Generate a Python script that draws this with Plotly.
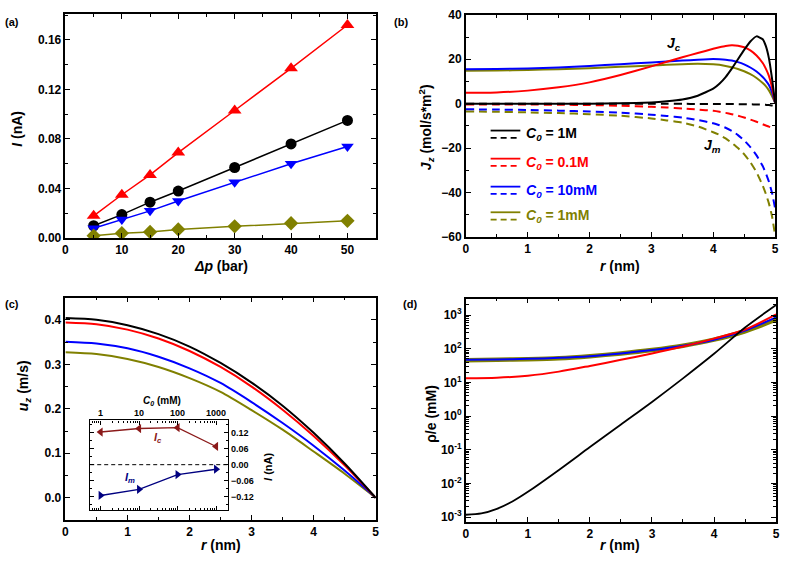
import plotly.graph_objects as go

W, H = 787, 565
FONT = "Liberation Sans, Arial, sans-serif"

def px(x):
    return x / W

def py(y):
    return 1 - y / H

# ---------------- data ----------------
# (a) current vs pressure
dp_bar = [5, 10, 15, 20, 30, 40, 50]
I_1M = [0.010, 0.019, 0.029, 0.038, 0.057, 0.076, 0.095]
I_01M = [0.018, 0.035, 0.051, 0.069, 0.103, 0.137, 0.172]
I_10mM = [0.008, 0.015, 0.022, 0.030, 0.045, 0.060, 0.074]
I_1mM = [0.002, 0.004, 0.005, 0.007, 0.0095, 0.012, 0.014]

# (b) fluxes
r_b = [0, 0.5, 1, 1.5, 2, 2.5, 3, 3.25, 3.5, 3.75, 4, 4.1, 4.2, 4.3, 4.4, 4.5, 4.6, 4.7, 4.8, 4.85, 4.9, 4.95, 5]
Jc_1M = [0, 0, 0, 0, 0.05, 0.2, 0.6, 1.1, 1.9, 3.6, 6.8, 9.0, 12.0, 15.8, 20.0, 24.2, 28.0, 30.3, 29.0, 26.0, 20.5, 11.5, 0.5]
Jc_01M = [4.9, 5.1, 5.9, 7.4, 9.6, 12.9, 16.8, 18.9, 20.9, 22.8, 24.7, 25.4, 26.0, 26.3, 26.1, 25.4, 24.0, 21.7, 18.3, 15.8, 12.5, 7.5, 0.5]
Jc_10mM = [15.5, 15.6, 15.9, 16.3, 17.0, 17.8, 18.6, 19.0, 19.4, 19.8, 20.1, 20.0, 19.8, 19.4, 18.7, 17.7, 16.3, 14.5, 12.0, 10.4, 8.4, 5.2, 0.5]
Jc_1mM = [14.8, 14.9, 15.2, 15.5, 16.0, 16.6, 17.2, 17.5, 17.8, 18.0, 17.8, 17.5, 17.0, 16.4, 15.6, 14.6, 13.3, 11.6, 9.3, 7.9, 6.0, 3.5, 0.5]
Jm_1M = [0, 0, 0, 0, 0, 0, 0, -0.02, -0.05, -0.08, -0.1, -0.12, -0.14, -0.16, -0.19, -0.22, -0.27, -0.33, -0.42, -0.5, -0.6, -0.8, -1.0]
Jm_01M = [-0.3, -0.3, -0.35, -0.45, -0.6, -0.9, -1.4, -1.7, -2.1, -2.6, -3.2, -3.6, -4.1, -4.7, -5.4, -6.2, -7.1, -8.1, -9.2, -9.8, -10.3, -10.8, -11.2]
Jm_10mM = [-2.5, -2.6, -2.8, -3.1, -3.5, -4.0, -4.9, -5.5, -6.2, -7.3, -8.8, -9.7, -10.8, -12.2, -14.1, -16.5, -19.5, -23.2, -28.0, -31.2, -35.0, -40.0, -47.0]
Jm_1mM = [-3.5, -3.6, -3.9, -4.2, -4.7, -5.4, -6.6, -7.5, -8.5, -10.2, -12.8, -14.0, -15.6, -17.6, -19.9, -22.7, -26.3, -30.8, -36.8, -40.5, -44.8, -50.5, -59.0]

# (c) velocity profiles
r_c = [0, 0.5, 1, 1.5, 2, 2.5, 3, 3.5, 4, 4.5, 5]
u_1M = [0.404, 0.400, 0.388, 0.368, 0.340, 0.303, 0.259, 0.207, 0.146, 0.077, 0.0]
u_01M = [0.394, 0.390, 0.378, 0.358, 0.330, 0.294, 0.250, 0.198, 0.139, 0.073, 0.0]
u_10mM = [0.351, 0.347, 0.336, 0.317, 0.291, 0.258, 0.215, 0.168, 0.117, 0.061, 0.0]
u_1mM = [0.327, 0.323, 0.312, 0.294, 0.269, 0.238, 0.197, 0.153, 0.104, 0.054, 0.0]

# inset of (c)
C0_mM = [1, 10, 100, 1000]
Ic_nA = [0.122, 0.135, 0.138, 0.068]
Im_nA = [-0.115, -0.092, -0.037, -0.017]

# (d) charge density
r_d1 = [0, 0.25, 0.5, 0.75, 1, 1.5, 2, 2.5, 3, 3.5, 4, 4.5, 5]
rho_1M = [0.00117, 0.00128, 0.00175, 0.00290, 0.00562, 0.0251, 0.120, 0.562, 2.63, 13.2, 70.8, 427, 2000]
r_d = [0, 0.5, 1, 1.5, 2, 2.5, 3, 3.5, 4, 4.5, 5]
rho_01M = [13.3, 13.8, 15.8, 20.9, 30.9, 46.8, 72.4, 117, 200, 372, 1047]
rho_10mM = [47.3, 47.9, 50.1, 53.7, 60.3, 72.4, 91.2, 123, 186, 347, 851]
rho_1mM = [45.7, 46.8, 49.0, 52.5, 60.3, 72.4, 91.2, 123, 186, 331, 741]

# log tick labels for (d)
d_tickvals = [1e-3, 1e-2, 1e-1, 1e0, 1e1, 1e2, 1e3]
d_ticktext = ["10<sup>-3</sup>", "10<sup>-2</sup>", "10<sup>-1</sup>", "10<sup>0</sup>",
              "10<sup>1</sup>", "10<sup>2</sup>", "10<sup>3</sup>"]
d_minorvals = [m * 10.0 ** e for e in range(-3, 4) for m in range(2, 10)]
inset_minorvals = [m * 10.0 ** e for e in range(-1, 4) for m in range(2, 10)]

BLACK, RED, BLUE, OLIVE = "#000000", "#FF0000", "#0000FF", "#808000"
DRED, NAVY = "#8B1A1A", "#000080"

fig = go.Figure()

# (a)
for ys, col, sym, sz in [(I_01M, RED, "triangle-up", 12), (I_1M, BLACK, "circle", 11),
                         (I_10mM, BLUE, "triangle-down", 11), (I_1mM, OLIVE, "diamond", 11)]:
    fig.add_trace(go.Scatter(x=dp_bar, y=ys, mode="lines+markers", xaxis="x", yaxis="y",
                             line=dict(color=col, width=1.5),
                             marker=dict(symbol=sym, size=sz, color=col), showlegend=False))

# (b)
for ys, col in [(Jm_1mM, OLIVE), (Jm_10mM, BLUE), (Jm_01M, RED), (Jm_1M, BLACK)]:
    fig.add_trace(go.Scatter(x=r_b, y=ys, mode="lines", xaxis="x2", yaxis="y2",
                             line=dict(color=col, width=2, dash="8px,5px", shape="spline", smoothing=0.4),
                             showlegend=False))
for ys, col in [(Jc_1mM, OLIVE), (Jc_10mM, BLUE), (Jc_01M, RED), (Jc_1M, BLACK)]:
    fig.add_trace(go.Scatter(x=r_b, y=ys, mode="lines", xaxis="x2", yaxis="y2",
                             line=dict(color=col, width=2, shape="spline", smoothing=0.4),
                             showlegend=False))

# (c)
for ys, col in [(u_1mM, OLIVE), (u_10mM, BLUE), (u_01M, RED), (u_1M, BLACK)]:
    fig.add_trace(go.Scatter(x=r_c, y=ys, mode="lines", xaxis="x3", yaxis="y3",
                             line=dict(color=col, width=2, shape="spline", smoothing=0.8),
                             showlegend=False))

# inset
fig.add_trace(go.Scatter(x=C0_mM, y=Ic_nA, mode="lines+markers", xaxis="x5", yaxis="y5",
                         line=dict(color=DRED, width=1.3),
                         marker=dict(symbol="triangle-left", size=8, color=DRED), showlegend=False))
fig.add_trace(go.Scatter(x=C0_mM, y=Im_nA, mode="lines+markers", xaxis="x5", yaxis="y5",
                         line=dict(color=NAVY, width=1.3),
                         marker=dict(symbol="triangle-right", size=8, color=NAVY), showlegend=False))

# (d)
fig.add_trace(go.Scatter(x=r_d, y=rho_1mM, mode="lines", xaxis="x4", yaxis="y4",
                         line=dict(color=OLIVE, width=4.5, shape="spline", smoothing=0.8), showlegend=False))
fig.add_trace(go.Scatter(x=r_d, y=rho_10mM, mode="lines", xaxis="x4", yaxis="y4",
                         line=dict(color=BLUE, width=2, shape="spline", smoothing=0.8), showlegend=False))
fig.add_trace(go.Scatter(x=r_d, y=rho_01M, mode="lines", xaxis="x4", yaxis="y4",
                         line=dict(color=RED, width=2, shape="spline", smoothing=0.8), showlegend=False))
fig.add_trace(go.Scatter(x=r_d1, y=rho_1M, mode="lines", xaxis="x4", yaxis="y4",
                         line=dict(color=BLACK, width=1.8, shape="spline", smoothing=0.8), showlegend=False))

TF = dict(size=12, family=FONT, color="black", weight="bold")
TFS = dict(size=9, family=FONT, color="black", weight="bold")

def ax(**kw):
    d = dict(showline=True, linecolor="black", linewidth=1.5, mirror="ticks", ticks="inside",
             ticklen=5, tickwidth=1.2, tickcolor="black", showgrid=False, zeroline=False,
             tickfont=TF)
    d.update(kw)
    return d

def mn(**kw):
    d = dict(ticks="inside", ticklen=3, tickwidth=1, tickcolor="black", showgrid=False)
    d.update(kw)
    return d

dxa = [px(63), px(376)]
dya = [py(237), py(7)]
dxb = [px(467), px(779)]
dyb = [py(236), py(8)]
dxc = [px(63), px(376)]
dyc = [py(526), py(298)]
dxd = [px(467), px(780)]
dyd = [py(528), py(299)]
dxi = [px(88), px(227)]
dyi = [py(516), py(424)]

fig.update_layout(
    width=W, height=H,
    margin=dict(l=0, r=0, t=0, b=0),
    paper_bgcolor="white", plot_bgcolor="white",
    font=dict(family=FONT, color="black"),
    xaxis=ax(domain=dxa, anchor="y", range=[0, 55], dtick=10, tick0=0, minor=mn(dtick=5)),
    yaxis=ax(domain=dya, anchor="x", range=[0, 0.181], dtick=0.04, tick0=0, tickformat=".2f",
             minor=mn(dtick=0.02)),
    xaxis2=ax(domain=dxb, anchor="y2", range=[0, 5], dtick=1, minor=mn(dtick=0.5)),
    yaxis2=ax(domain=dyb, anchor="x2", range=[-60, 40], dtick=20, minor=mn(dtick=10)),
    xaxis3=ax(domain=dxc, anchor="y3", range=[0, 5], dtick=1, minor=mn(dtick=0.5)),
    yaxis3=ax(domain=dyc, anchor="x3", range=[-0.05, 0.45], dtick=0.1, tick0=0, tickformat=".1f",
              minor=mn(dtick=0.05)),
    xaxis4=ax(domain=dxd, anchor="y4", range=[0, 5], dtick=1, minor=mn(dtick=0.5)),
    yaxis4=ax(domain=dyd, anchor="x4", type="log", range=[-3.145, 3.49],
              tickvals=d_tickvals, ticktext=d_ticktext,
              minor=mn(tickvals=d_minorvals)),
    xaxis5=ax(domain=dxi, anchor="y5", side="top", type="log", range=[-0.27, 3.31],
              tickvals=[1, 10, 100, 1000], ticktext=["1", "10", "100", "1000"],
              tickfont=TFS, ticklen=4, linewidth=1.2, minor=mn(tickvals=inset_minorvals, ticklen=2)),
    yaxis5=ax(domain=dyi, anchor="x5", side="right", range=[-0.17, 0.165], dtick=0.06, tick0=0,
              tickformat=".2f", tickfont=TFS, ticklen=4, linewidth=1.2, minor=mn(dtick=0.03, ticklen=2)),
)

# inset zero line
fig.add_shape(type="line", xref="x5 domain", yref="y5", x0=0, x1=1, y0=0, y1=0,
              line=dict(color="black", width=1, dash="4px,3px"))

# legend glyphs for (b)
leg = [("1M", BLACK, 126.7), ("0.1M", RED, 155.5), ("10mM", BLUE, 184.2), ("1mM", OLIVE, 210.5)]
for lab, col, yy in leg:
    fig.add_shape(type="line", xref="paper", yref="paper", x0=px(492), x1=px(522), y0=py(yy), y1=py(yy),
                  line=dict(color=col, width=1.8))
    fig.add_shape(type="line", xref="paper", yref="paper", x0=px(492), x1=px(522),
                  y0=py(yy + 7.5), y1=py(yy + 7.5), line=dict(color=col, width=1.8, dash="6px,4px"))
    fig.add_annotation(x=px(526), y=py(yy + 4), xref="paper", yref="paper", xanchor="left",
                       yanchor="middle", showarrow=False,
                       text=f"<b><i>C</i><sub><i>0</i></sub> = {lab}</b>",
                       font=dict(size=14, family=FONT, color=col))

def ann(x, y, text, size=14, angle=0, color="black", xanchor="center"):
    fig.add_annotation(x=px(x), y=py(y), xref="paper", yref="paper", text=text, showarrow=False,
                       textangle=angle, xanchor=xanchor, yanchor="middle",
                       font=dict(size=size, family=FONT, color=color))

# panel labels
ann(9, 15, "<b>(a)</b>", 11)
ann(402, 15, "<b>(b)</b>", 11)
ann(9, 305, "<b>(c)</b>", 11)
ann(411, 305, "<b>(d)</b>", 11)

# axis titles
ann(220, 266, "<b><i>Δp</i> (bar)</b>", 14)
ann(623, 266, "<b><i>r</i> (nm)</b>", 14)
ann(220, 552, "<b><i>r</i> (nm)</b>", 14)
ann(623, 552, "<b><i>r</i> (nm)</b>", 14)
ann(14, 125, "<b><i>I</i> (nA)</b>", 14, -90)
ann(427, 123, "<b><i>J</i><sub><i>z</i></sub> (mol/s*m<sup>2</sup>)</b>", 14, -90)
ann(22, 388, "<b><i>u</i><sub><i>z</i></sub> (m/s)</b>", 14, -90)
ann(432, 417, "<b>ρ/e (mM)</b>", 14, -90)

# curve labels
ann(677, 38, "<b><i>J</i><sub><i>c</i></sub></b>", 14)
ann(716, 143, "<b><i>J</i><sub><i>m</i></sub></b>", 14)

# inset labels
ann(160, 404, "<b><i>C</i><sub><i>0</i></sub> (mM)</b>", 10)
ann(268, 472, "<b><i>I</i> (nA)</b>", 11, -90)
ann(156, 442, "<b><i>I</i><sub><i>c</i></sub></b>", 11, color=DRED)
ann(128, 483, "<b><i>I</i><sub><i>m</i></sub></b>", 11, color=NAVY)

fig.write_html("out.html",
               config={"displayModeBar": False},
               post_script="document.body.style.margin='0';document.body.style.padding='0';")
